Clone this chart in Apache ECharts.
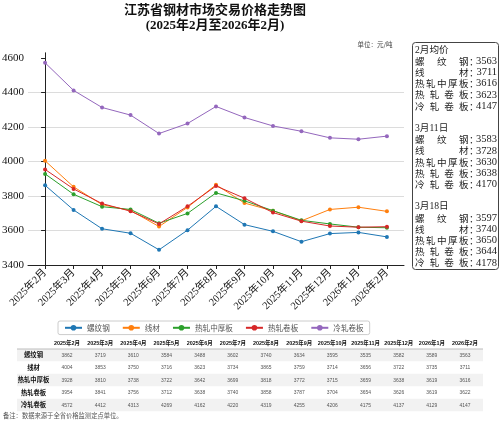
<!DOCTYPE html>
<html><head><meta charset="utf-8">
<script src="https://cdn.jsdelivr.net/npm/echarts@6/dist/echarts.min.js"></script>
<style>html,body{margin:0;padding:0;background:#fff}#c{width:500px;height:430px}</style>
</head><body><div id="c"></div>
<script>
const months = ['2025年2月','2025年3月','2025年4月','2025年5月','2025年6月','2025年7月','2025年8月','2025年9月','2025年10月','2025年11月','2025年12月','2026年1月','2026年2月'];
const seriesNames = ['螺纹钢','线材','热轧中厚板','热轧卷板','冷轧卷板'];
const seriesColors = ['#1f77b4','#ff7f0e','#2ca02c','#d62728','#9467bd'];
const rebar    = [3862,3719,3610,3584,3488,3602,3740,3634,3595,3535,3582,3589,3563];
const wireRod  = [4004,3853,3750,3716,3623,3734,3865,3759,3714,3656,3722,3735,3711];
const plate    = [3928,3810,3738,3722,3642,3699,3818,3772,3715,3659,3638,3619,3616];
const hotCoil  = [3954,3841,3756,3712,3638,3740,3858,3787,3704,3654,3626,3619,3622];
const coldCoil = [4572,4412,4313,4269,4162,4220,4319,4255,4206,4175,4137,4129,4147];
const seriesValues = [rebar, wireRod, plate, hotCoil, coldCoil];
const yTicks = [3400,3600,3800,4000,4200,4400,4600];

const panelTitles = ['2月均价','3月11日','3月18日'];
const panelLabels = ['螺纹钢','线材','热轧中厚板','热轧卷板','冷轧卷板'];
const panelFeb   = [3563,3711,3616,3623,4147];
const panelMar11 = [3583,3728,3630,3638,4170];
const panelMar18 = [3597,3740,3650,3644,4178];
const panelValues = [panelFeb, panelMar11, panelMar18];

const tableRowLabels = ['螺纹钢','线材','热轧中厚板','热轧卷板','冷轧卷板'];
const titleText = '江苏省钢材市场交易价格走势图';
const subTitleText = '(2025年2月至2026年2月)';
const unitText = '单位：元/吨';
const noteText = '备注：数据来源于全省价格监测定点单位。';

const SERIF = "'Liberation Serif','Noto Sans CJK SC',serif";
const SANS = "'Liberation Sans','Noto Sans CJK SC',sans-serif";
const CJK = "'Noto Sans CJK SC',sans-serif";

const graphics = [];
graphics.push({type:'text', x:215, y:11, style:{text:titleText, fontSize:13, fontWeight:'bold', fontFamily:SERIF, fill:'#111', align:'center', verticalAlign:'middle'}});
graphics.push({type:'text', x:215, y:26, style:{text:subTitleText, fontSize:13, fontWeight:'bold', fontFamily:SERIF, fill:'#111', align:'center', verticalAlign:'middle'}});
graphics.push({type:'text', x:375, y:45, style:{text:unitText, fontSize:6.5, fontFamily:CJK, fill:'#444', align:'center', verticalAlign:'middle'}});

// right panel
graphics.push({type:'rect', shape:{x:412.5, y:42.5, width:86, height:227, r:3}, style:{fill:'#fff', stroke:'#444', lineWidth:1}});
const lineH = 11.2;
const pFont = 9.6;
panelTitles.forEach((t, b) => {
  const y0 = 50 + b * 7 * lineH;
  graphics.push({type:'text', x:415, y:y0, style:{text:t, fontSize:pFont, fontFamily:SERIF, fill:'#222', align:'left', verticalAlign:'middle'}});
  panelLabels.forEach((lab, k) => {
    const y = y0 + (k + 1) * lineH;
    const chars = lab.split('');
    const step = chars.length > 1 ? (459 - 415) / (chars.length - 1) : 0;
    chars.forEach((ch, j) => {
      graphics.push({type:'text', x:415 + step * j, y:y, style:{text:ch, fontSize:pFont, fontFamily:CJK, fill:'#222', align:'left', verticalAlign:'middle'}});
    });
    graphics.push({type:'text', x:469, y:y, style:{text:'：', fontSize:pFont, fontFamily:CJK, fill:'#222', align:'left', verticalAlign:'middle'}});
    graphics.push({type:'text', x:497, y:y, style:{text:String(panelValues[b][k]), fontSize:10.5, fontFamily:SERIF, fill:'#222', align:'right', verticalAlign:'middle'}});
  });
});

// table
const colX = i => 67 + 33.17 * i;
const headerY = 343.5;
const rowY = r => 355 + 12.5 * r;
tableRowLabels.forEach((lab, r) => {
  if (r % 2 === 0) {
    graphics.push({type:'rect', shape:{x:17, y:rowY(r) - 6.25, width:466, height:12.5}, style:{fill:'#f2f2f2'}});
  }
});
graphics.push({type:'line', shape:{x1:17, y1:349, x2:483, y2:349}, style:{stroke:'#999', lineWidth:0.6}});
months.forEach((m, i) => {
  graphics.push({type:'text', x:colX(i), y:headerY, scaleX:0.88, style:{text:m, fontSize:6.2, fontWeight:'bold', fontFamily:SANS, fill:'#111', align:'center', verticalAlign:'middle'}});
});
tableRowLabels.forEach((lab, r) => {
  graphics.push({type:'text', x:33.5, y:rowY(r), style:{text:lab, fontSize:6.3, fontWeight:'bold', fontFamily:CJK, fill:'#111', align:'center', verticalAlign:'middle'}});
  seriesValues[r].forEach((v, i) => {
    graphics.push({type:'text', x:colX(i), y:rowY(r), scaleX:0.8, style:{text:String(v), fontSize:6.2, fontFamily:SANS, fill:'#555', align:'center', verticalAlign:'middle'}});
  });
});
graphics.push({type:'text', x:3, y:416, style:{text:noteText, fontSize:6.3, fontFamily:CJK, fill:'#555', align:'left', verticalAlign:'middle'}});

const chart = echarts.init(document.getElementById('c'), null, {renderer:'canvas'});
chart.setOption({
  animation:false,
  backgroundColor:'#fff',
  grid:{left:28, right:96, top:52.8, bottom:165, outerBoundsMode:'none'},
  xAxis:{
    type:'value', min:-0.6, max:12.6,
    axisLine:{show:true, onZero:false, lineStyle:{color:'#222', width:1}},
    axisTick:{show:true, customValues:months.map((m,i)=>i), length:4, lineStyle:{color:'#222'}},
    axisLabel:{customValues:months.map((m,i)=>i), formatter:v=>months[Math.round(v)], rotate:45, fontSize:10.5, color:'#111', fontFamily:SERIF, margin:6},
    splitLine:{show:false}
  },
  yAxis:{
    type:'value', min:yTicks[0], max:4630, interval:200,
    axisLine:{show:true, lineStyle:{color:'#222', width:1}},
    axisTick:{show:true, length:4, customValues:yTicks, lineStyle:{color:'#222'}},
    axisLabel:{fontSize:11, color:'#111', fontFamily:SERIF, margin:4, customValues:yTicks, formatter:v=>String(v)},
    splitLine:{show:true, showMaxLine:false, showMinLine:false, lineStyle:{color:'#dcdcdc', width:1}}
  },
  legend:{
    left:58, top:321, orient:'horizontal', itemWidth:17, itemHeight:7, itemGap:12,
    padding:[3,6], borderColor:'#ccc', borderWidth:1, borderRadius:2,
    textStyle:{fontSize:7.6, color:'#555', fontFamily:CJK},
    data:seriesNames
  },
  series:seriesNames.map((n, s) => ({
    name:n, type:'line', symbol:'circle', symbolSize:4,
    itemStyle:{color:seriesColors[s]},
    lineStyle:{color:seriesColors[s], width:1},
    data:seriesValues[s].map((v, i) => [i, v])
  })),
  graphic:graphics
});
</script></body></html>
